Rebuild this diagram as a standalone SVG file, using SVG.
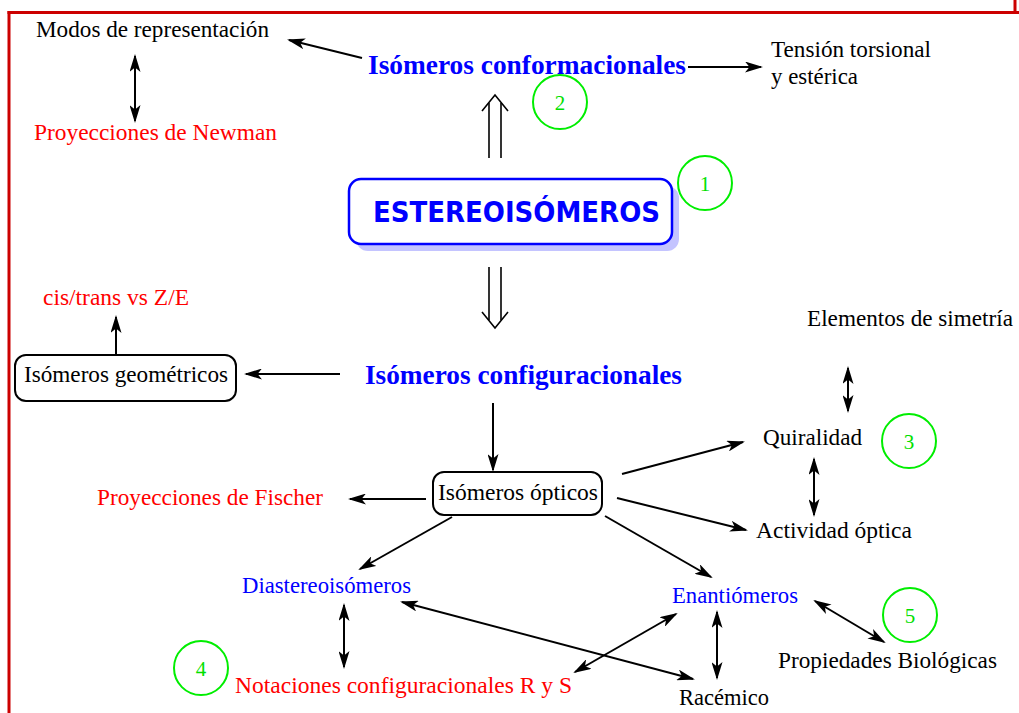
<svg xmlns="http://www.w3.org/2000/svg" width="1019" height="713" viewBox="0 0 1019 713">
<style>
  .t { font-family: "Liberation Serif", "Times New Roman", serif; font-size: 23px; fill: #000; }
  .red { fill: #ff0000; }
  .blue { fill: #0000ff; }
  .bb { font-family: "Liberation Serif", "Times New Roman", serif; font-size: 28px; font-weight: bold; fill: #0000ff; }
  .num { font-family: "Liberation Serif", "Times New Roman", serif; font-size: 21px; fill: #00e000; text-anchor: middle; }
  .circ { fill: none; stroke: #00ee00; stroke-width: 2; }
  .ln { stroke: #000; stroke-width: 2; fill: none; }
  .s { marker-end: url(#ah); }
  .d { marker-end: url(#ah); marker-start: url(#ah); }
  .dbl { stroke: #000; stroke-width: 1.6; fill: none; }
  .border { stroke: #cc0000; stroke-width: 3; fill: none; }
</style>
<defs>
  <marker id="ah" viewBox="0 0 18 11" refX="16" refY="5.5" markerWidth="18" markerHeight="11" markerUnits="userSpaceOnUse" orient="auto-start-reverse">
    <path d="M0,0 L18,5.5 L0,11 L4.5,5.5 Z" fill="#000"/>
  </marker>
</defs>
<rect width="1019" height="713" fill="#fff"/>
<g id="border">
  <line class="border" x1="7.5" y1="12.5" x2="1019" y2="12.5"/>
  <line class="border" x1="9" y1="11" x2="9" y2="713"/>
  <line class="border" x1="1015" y1="0" x2="1015" y2="13"/>
</g>
<g id="connectors">
  <line class="ln s" x1="362" y1="58" x2="289" y2="40"/>
  <line class="ln d" x1="135" y1="56" x2="135" y2="121"/>
  <line class="ln s" x1="688" y1="67" x2="761" y2="67"/>
  <g id="up-double">
    <line class="dbl" x1="489" y1="158" x2="489" y2="103"/>
    <line class="dbl" x1="501" y1="158" x2="501" y2="103"/>
    <path class="dbl" d="M482,111 L495,95 L508,111"/>
  </g>
  <g id="down-double">
    <line class="dbl" x1="489" y1="267" x2="489" y2="320"/>
    <line class="dbl" x1="501" y1="267" x2="501" y2="320"/>
    <path class="dbl" d="M482,312 L495,328 L508,312"/>
  </g>
  <line class="ln s" x1="340" y1="374" x2="246" y2="374"/>
  <line class="ln s" x1="116" y1="355" x2="116" y2="317"/>
  <line class="ln s" x1="493" y1="403" x2="493" y2="470"/>
  <line class="ln s" x1="426" y1="499" x2="350" y2="499"/>
  <line class="ln s" x1="452" y1="517" x2="360" y2="569"/>
  <line class="ln s" x1="622" y1="474" x2="743" y2="442"/>
  <line class="ln s" x1="617" y1="498" x2="746" y2="530"/>
  <line class="ln s" x1="605" y1="516" x2="711" y2="577"/>
  <line class="ln d" x1="848" y1="368" x2="848" y2="411"/>
  <line class="ln d" x1="814" y1="459" x2="814" y2="515"/>
  <line class="ln d" x1="344" y1="605" x2="344" y2="667"/>
  <line class="ln d" x1="402" y1="602" x2="693" y2="679"/>
  <line class="ln d" x1="575" y1="672" x2="676" y2="614"/>
  <line class="ln d" x1="717" y1="612" x2="717" y2="678"/>
  <line class="ln d" x1="815" y1="601" x2="884" y2="642"/>
</g>
<g id="n-modos"><text class="t" x="36" y="37" textLength="233" lengthAdjust="spacingAndGlyphs">Modos de representación</text></g>
<g id="n-newman"><text class="t red" x="34" y="140" textLength="243" lengthAdjust="spacingAndGlyphs">Proyecciones de Newman</text></g>
<g id="n-conformacionales"><text class="bb" x="368" y="74" textLength="318" lengthAdjust="spacingAndGlyphs">Isómeros conformacionales</text></g>
<g id="n-tension">
  <text class="t" x="771" y="57" textLength="160" lengthAdjust="spacingAndGlyphs">Tensión torsional</text>
  <text class="t" x="771" y="84" textLength="87" lengthAdjust="spacingAndGlyphs">y estérica</text>
</g>
<g id="n-estereo">
  <rect x="356" y="186" width="323" height="65" rx="12" fill="#c4c4ff"/>
  <rect x="349" y="179" width="323" height="65" rx="12" fill="#fff" stroke="#0000ff" stroke-width="2.5"/>
  <text x="373" y="222" textLength="287" lengthAdjust="spacingAndGlyphs" font-family="'DejaVu Sans', sans-serif" font-size="29" font-weight="bold" fill="#0000ff">ESTEREOISÓMEROS</text>
</g>
<g id="n-cistrans"><text class="t red" x="43" y="305" textLength="146" lengthAdjust="spacingAndGlyphs">cis/trans vs Z/E</text></g>
<g id="n-geometricos">
  <rect x="15" y="355" width="221" height="46" rx="11" fill="none" stroke="#000" stroke-width="2"/>
  <text class="t" x="24" y="382" textLength="204" lengthAdjust="spacingAndGlyphs">Isómeros geométricos</text>
</g>
<g id="n-configuracionales"><text class="bb" x="365" y="384" textLength="317" lengthAdjust="spacingAndGlyphs">Isómeros configuracionales</text></g>
<g id="n-elementos"><text class="t" x="807" y="326" textLength="206" lengthAdjust="spacingAndGlyphs">Elementos de simetría</text></g>
<g id="n-quiralidad"><text class="t" x="763" y="445" textLength="99" lengthAdjust="spacingAndGlyphs">Quiralidad</text></g>
<g id="n-actividad"><text class="t" x="756" y="538" textLength="156" lengthAdjust="spacingAndGlyphs">Actividad óptica</text></g>
<g id="n-opticos">
  <rect x="433" y="472" width="169" height="43" rx="11" fill="none" stroke="#000" stroke-width="2"/>
  <text class="t" x="438" y="500" textLength="160" lengthAdjust="spacingAndGlyphs">Isómeros ópticos</text>
</g>
<g id="n-fischer"><text class="t red" x="97" y="505" textLength="226" lengthAdjust="spacingAndGlyphs">Proyecciones de Fischer</text></g>
<g id="n-diastereo"><text class="t blue" x="242" y="593" textLength="169" lengthAdjust="spacingAndGlyphs">Diastereoisómeros</text></g>
<g id="n-enantio"><text class="t blue" x="672" y="603" textLength="126" lengthAdjust="spacingAndGlyphs">Enantiómeros</text></g>
<g id="n-notaciones"><text class="t red" x="235" y="693" textLength="337" lengthAdjust="spacingAndGlyphs">Notaciones configuracionales R y S</text></g>
<g id="n-racemico"><text class="t" x="679" y="705" textLength="90" lengthAdjust="spacingAndGlyphs">Racémico</text></g>
<g id="n-propiedades"><text class="t" x="778" y="668" textLength="219" lengthAdjust="spacingAndGlyphs">Propiedades Biológicas</text></g>
<g id="c1"><circle class="circ" cx="705" cy="183" r="27"/><text class="num" x="705" y="191">1</text></g>
<g id="c2"><circle class="circ" cx="560" cy="102" r="27"/><text class="num" x="560" y="110">2</text></g>
<g id="c3"><circle class="circ" cx="909" cy="441" r="27"/><text class="num" x="909" y="449">3</text></g>
<g id="c4"><circle class="circ" cx="201" cy="668" r="27"/><text class="num" x="201" y="676">4</text></g>
<g id="c5"><circle class="circ" cx="910" cy="615" r="27"/><text class="num" x="910" y="623">5</text></g>
</svg>
